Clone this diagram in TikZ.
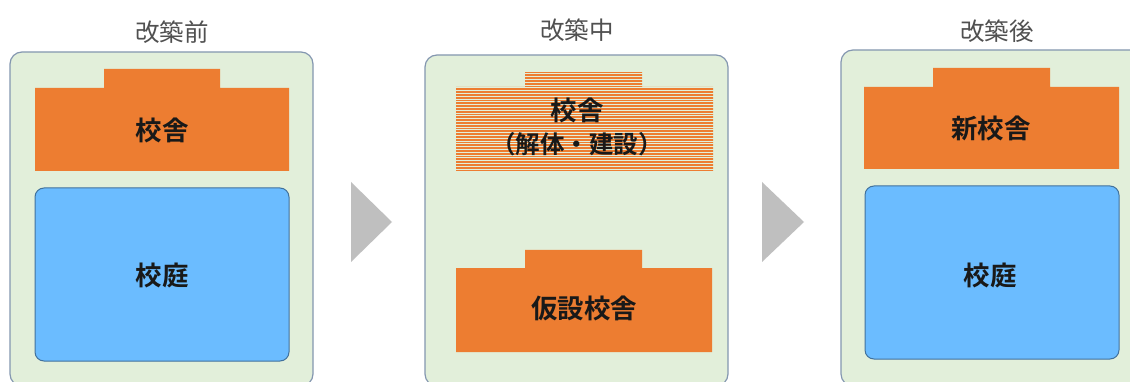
\documentclass[tikz,border=0pt]{standalone}
\usepackage{fontspec}
\setmainfont{Noto Sans CJK JP}[BoldFont={Noto Sans CJK JP Bold}]
\definecolor{panelfill}{HTML}{E2EFDA}
\definecolor{panelline}{HTML}{8497B0}
\definecolor{bldg}{HTML}{ED7D31}
\definecolor{yard}{HTML}{6BBCFF}
\definecolor{yardline}{HTML}{41719C}
\definecolor{arrowgray}{HTML}{BFBFBF}
\definecolor{titlegray}{HTML}{505050}
\tikzset{
  panel/.style={fill=panelfill, draw=panelline, line width=1.2pt, rounded corners=12pt},
  building/.style={fill=bldg},
  yardbox/.style={fill=yard, draw=yardline, line width=1pt, rounded corners=9pt},
  chevron/.style={fill=arrowgray},
  titletext/.style={font=\fontsize{24.5}{28}\selectfont, text=titlegray, inner sep=0pt},
  labeltext/.style={font=\bfseries\fontsize{26.5}{33}\selectfont, text=black!90, inner sep=0pt, align=center},
  hatchline/.style={draw=bldg, line width=1.9pt}
}
\begin{document}
\begin{tikzpicture}[x=1pt, y=-1pt]
\useasboundingbox (0,0) rectangle (1130,382);
\clip (0,0) rectangle (1130,382);
\fill[white] (0,0) rectangle (1130,382);
% panels
\draw[panel] (10,52) rectangle (313,386);
\draw[panel] (425,55) rectangle (728,386);
\draw[panel] (841,50) rectangle (1150,386);
% titles
\node[titletext] (t1) at (172,32) {改築前};
\node[titletext] (t2) at (577,30) {改築中};
\node[titletext] (t3) at (997,31) {改築後};
% panel 1
\fill[building] (35,171) -- (35,88) -- (104,88) -- (104,69) -- (220,69) -- (220,88) -- (289,88) -- (289,171) -- cycle;
\node[labeltext] (b1) at (162,130) {校舎};
\draw[yardbox] (35,188) rectangle (289,361);
\node[labeltext] (y1) at (162,275) {校庭};
% arrow 1
\fill[chevron] (351,182) -- (392,222) -- (351,262) -- cycle;
% panel 2 hatched building
\begin{scope}
\clip (456,171) -- (456,87) -- (525,87) -- (525,72) -- (642,72) -- (642,87) -- (713,87) -- (713,171) -- cycle;
\foreach \yy in {72.5,75.3,...,172} {\draw[hatchline] (450,\yy) -- (720,\yy);}
\end{scope}
\node[labeltext] (b2) at (577,127) {校舎\\{\fontsize{24.5}{33}\selectfont （解体・建設）}};
\fill[building] (456,352) -- (456,268) -- (525,268) -- (525,250) -- (642,250) -- (642,268) -- (712,268) -- (712,352) -- cycle;
\node[labeltext] (b3) at (584,308) {仮設校舎};
% arrow 2
\fill[chevron] (762,182) -- (804,222) -- (762,262) -- cycle;
% panel 3
\fill[building] (864,169) -- (864,87) -- (933,87) -- (933,68) -- (1050,68) -- (1050,87) -- (1119,87) -- (1119,169) -- cycle;
\node[labeltext] (b4) at (991,128) {新校舎};
\draw[yardbox] (865,186) rectangle (1119,359);
\node[labeltext] (y2) at (990,275) {校庭};
\end{tikzpicture}
\end{document}
